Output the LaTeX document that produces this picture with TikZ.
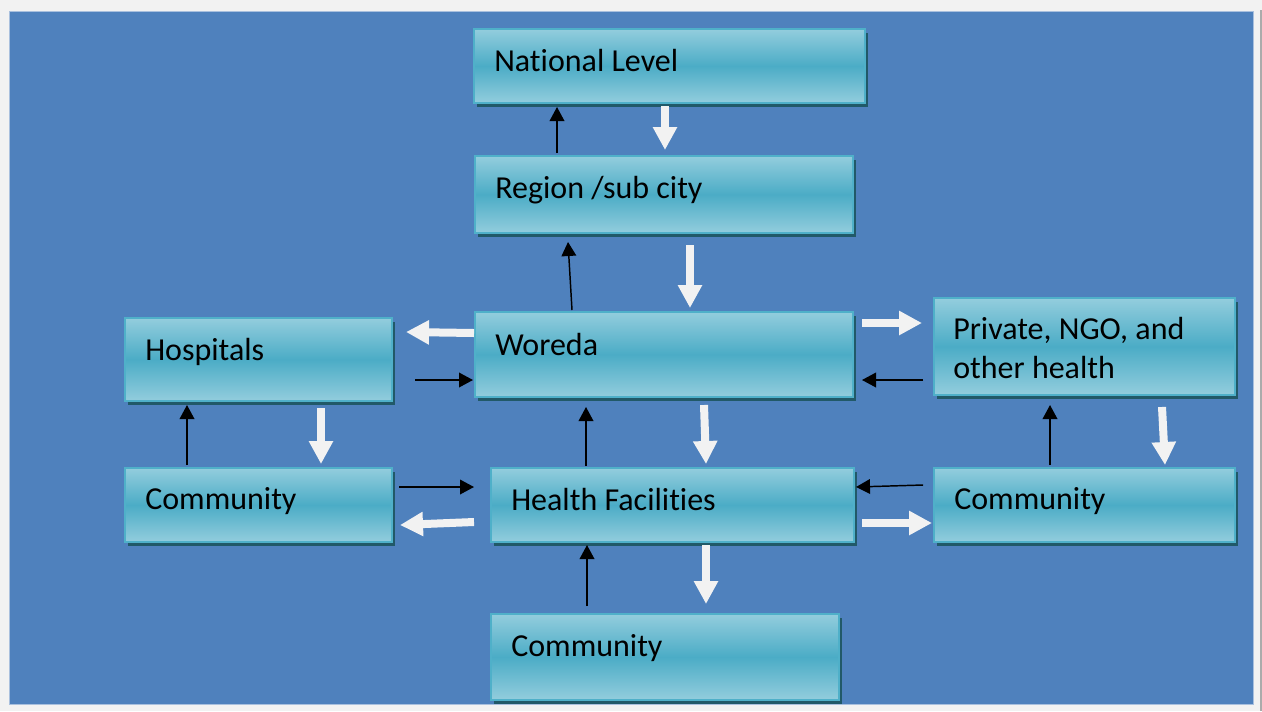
\documentclass[tikz,border=0pt]{standalone}
\usepackage{fontspec}
\setmainfont{Carlito}[Ligatures={NoCommon}]
\usetikzlibrary{arrows.meta,calc,shadows}
\definecolor{outbg}{HTML}{F2F2F2}
\definecolor{panel}{HTML}{4F81BD}
\definecolor{panelrim}{HTML}{A9C0DE}
\definecolor{boxmid}{HTML}{4BACC6}
\definecolor{boxlight}{HTML}{93CDDD}
\definecolor{boxrim}{HTML}{4FB0C9}
\definecolor{shadowc}{HTML}{215968}
\definecolor{warrow}{HTML}{F2F2F2}
\definecolor{edgegray}{HTML}{ABABAB}
\begin{document}
\begin{tikzpicture}[x=0.75pt,y=-0.75pt,
  box/.style={draw=boxrim, line width=1.5pt, top color=boxlight, bottom color=boxlight, middle color=boxmid,
    anchor=north west, inner sep=0pt,
    general shadow={fill=shadowc, draw=none, shadow xshift=2.25pt, shadow yshift=-3pt}},
  lbl/.style={anchor=base west, inner sep=0pt, font=\fontsize{24pt}{29.25pt}\selectfont, align=left},
  blk/.style={draw=black, line width=1.1pt, -{Triangle[width=11pt,length=10.5pt]}},
  wht/.style={draw=warrow, line width=6pt, -{Triangle[width=17.25pt,length=17.25pt]}}
]
\useasboundingbox (0,0) rectangle (1262,711);
\fill[outbg] (0,0) rectangle (1262,711);
\draw[edgegray, line width=1.5pt] (1260.5,10) -- (1260.5,711);
\filldraw[fill=panel, draw=panelrim, line width=0.75pt] (9,11) rectangle (1253,704);

% boxes
\node[box, minimum width=293.25pt, minimum height=55.5pt] (nat) at (473,28) {};
\node[box, minimum width=283.5pt, minimum height=57.75pt] (reg) at (474,155) {};
\node[box, minimum width=283.5pt, minimum height=63.75pt] (wor) at (474,311) {};
\node[box, minimum width=200.25pt, minimum height=62.25pt] (hos) at (124,317) {};
\node[box, minimum width=225.75pt, minimum height=72.75pt] (pri) at (933,297) {};
\node[box, minimum width=200.25pt, minimum height=55.5pt] (comL) at (124,467) {};
\node[box, minimum width=272.25pt, minimum height=55.5pt] (hf) at (490,467) {};
\node[box, minimum width=225.75pt, minimum height=55.5pt] (comR) at (933,467) {};
\node[box, minimum width=261pt, minimum height=64.5pt] (comB) at (490,613) {};

% labels
\node[lbl] (natT) at ($(nat.west)+(21,5)$) {National Level};
\node[lbl] (regT) at ($(reg.west)+(21,3.5)$) {Region /sub city};
\node[lbl] (worT) at ($(wor.west)+(21,0.5)$) {Woreda};
\node[lbl] (hosT) at ($(hos.west)+(21,0.5)$) {Hospitals};
\node[lbl] (priT) at ($(pri.west)+(20,31.5)$) {Private, NGO, and\\other health};
\node[lbl] (comLT) at ($(comL.west)+(21,4)$) {Community};
\node[lbl] (hfT) at ($(hf.west)+(21,5)$) {Health Facilities};
\node[lbl] (comRT) at ($(comR.west)+(21,4)$) {Community};
\node[lbl] (comBT) at ($(comB.west)+(21,-1)$) {Community};

% black arrows
\draw[blk] ($(reg.north west)+(83,-2)$) -- ($(nat.south west)+(84,3)$);
\draw[blk] ($(wor.north west)+(98,-1)$) -- ($(reg.south west)+(94,8)$);
\draw[blk] ($(hos.north east)+(22,63)$) -- ($(wor.north west)+(-1,69)$);
\draw[blk] ($(pri.north west)+(-10,83)$) -- ($(wor.north east)+(8,69)$);
\draw[blk] ($(comL.north west)+(63,-2)$) -- ($(hos.south west)+(63,3)$);
\draw[blk] ($(comL.north east)+(6,20)$) -- ($(hf.north west)+(-16,20)$);
\draw[blk] ($(hf.north west)+(96,-1)$) -- ($(wor.south west)+(112,9)$);
\draw[blk] ($(comR.north west)+(-10,18)$) -- ($(hf.north east)+(1,20)$);
\draw[blk] ($(comB.north west)+(97,-7)$) -- ($(hf.south west)+(97,2)$);
\draw[blk] ($(comR.north west)+(117,-2)$) -- ($(pri.south west)+(117,9)$);

% white block arrows
\draw[wht] ($(nat.south west)+(192,2)$) -- ($(reg.north west)+(191,-5)$);
\draw[wht] ($(reg.south west)+(216,11)$) -- ($(wor.north west)+(216,-3)$);
\draw[wht] ($(wor.north west)+(0,22)$) -- ($(hos.north east)+(13,15)$);
\draw[wht] ($(wor.north east)+(8,12)$) -- ($(pri.north west)+(-11,26)$);
\draw[wht] ($(hos.south west)+(197,6)$) -- ($(comL.north west)+(197,-3)$);
\draw[wht] ($(wor.south west)+(230,7)$) -- ($(hf.north west)+(216,-3)$);
\draw[wht] ($(hf.north west)+(-16,55)$) -- ($(comL.north east)+(7,58)$);
\draw[wht] ($(hf.north east)+(7,56)$) -- ($(comR.north west)+(-1,56)$);
\draw[wht] ($(pri.south west)+(229,11)$) -- ($(comR.north west)+(232,-2)$);
\draw[wht] ($(hf.south west)+(216,2)$) -- ($(comB.north west)+(216,-9)$);
\end{tikzpicture}
\end{document}
